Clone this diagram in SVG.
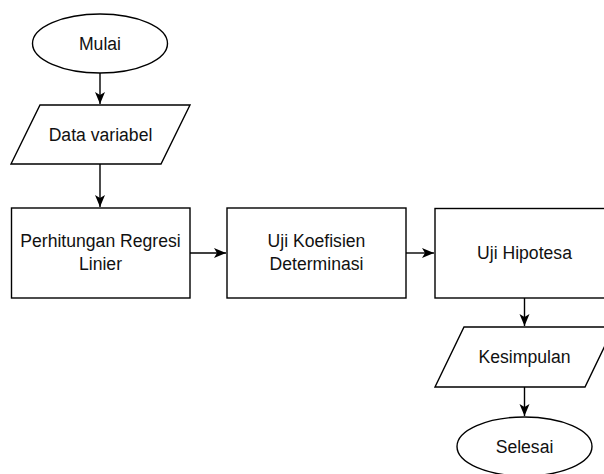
<svg xmlns="http://www.w3.org/2000/svg" width="604" height="474" viewBox="0 0 604 474">
<style>
.s{fill:#fff;stroke:#000;stroke-width:1.4}
.t{font-family:"Liberation Sans",Arial,sans-serif;font-size:17.6px;fill:#111;text-anchor:middle}
.c{fill:none;stroke:#000;stroke-width:1.4}
</style>
<defs>
<marker id="a" markerUnits="userSpaceOnUse" markerWidth="13" markerHeight="13" viewBox="0 0 13 13" refX="12" refY="6.5" orient="auto">
<path d="M0,1.5 L12,6.5 L0,11.5 L3,6.5 z" fill="#000"/>
</marker>
</defs>
<g id="connectors">
<path class="c" d="M100,73 V104" marker-end="url(#a)"/>
<path class="c" d="M100,164 V207" marker-end="url(#a)"/>
<path class="c" d="M190,253 H226" marker-end="url(#a)"/>
<path class="c" d="M406,253 H434" marker-end="url(#a)"/>
<path class="c" d="M524.5,298 V326" marker-end="url(#a)"/>
<path class="c" d="M524.5,387 V416" marker-end="url(#a)"/>
</g>
<g id="mulai">
<ellipse class="s" cx="100" cy="43.5" rx="67.5" ry="29.5"/>
<text class="t" x="100" y="49.5">Mulai</text>
</g>
<g id="data-variabel">
<polygon class="s" points="40,105 190,105 161,164 11,164"/>
<text class="t" x="100.5" y="140.5">Data variabel</text>
</g>
<g id="perhitungan">
<rect class="s" x="11.5" y="208" width="178.5" height="90"/>
<text class="t" x="100.5" y="247">Perhitungan Regresi</text>
<text class="t" x="100.5" y="270">Linier</text>
</g>
<g id="koefisien">
<rect class="s" x="227" y="208" width="179" height="90"/>
<text class="t" x="316.5" y="247">Uji Koefisien</text>
<text class="t" x="316.5" y="270">Determinasi</text>
</g>
<g id="hipotesa">
<rect class="s" x="435" y="208.5" width="179" height="89.5"/>
<text class="t" x="524.5" y="259">Uji Hipotesa</text>
</g>
<g id="kesimpulan">
<polygon class="s" points="464,327 614,327 585,387 435,387"/>
<text class="t" x="524.5" y="363">Kesimpulan</text>
</g>
<g id="selesai">
<ellipse class="s" cx="524.5" cy="446.5" rx="67.5" ry="29.5"/>
<text class="t" x="524.5" y="452.5">Selesai</text>
</g>
</svg>
